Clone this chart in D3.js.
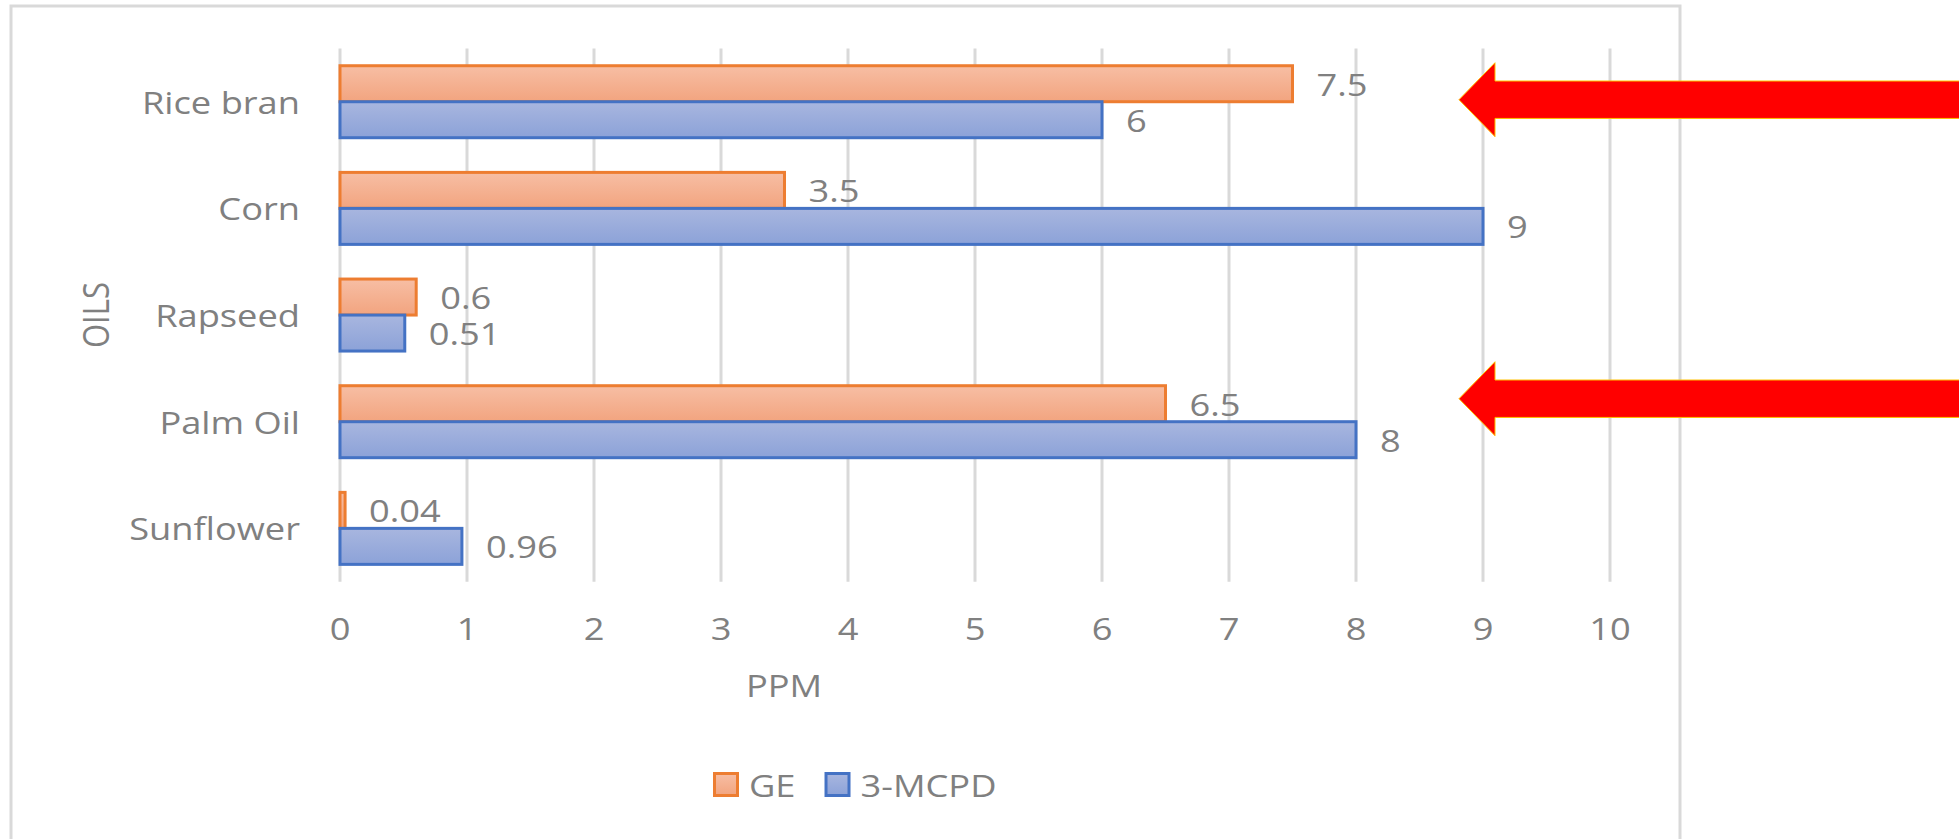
<!DOCTYPE html>
<html>
<head>
<meta charset="utf-8">
<script src="https://cdn.jsdelivr.net/npm/d3@7"></script>
<style>
  html, body { margin: 0; padding: 0; background: #fff; overflow: hidden; }
  svg { display: block; }
</style>
</head>
<body>
<svg id="chart" width="1959" height="839"></svg>
<script>
// ---- data ----
const categories = ["Rice bran", "Corn", "Rapseed", "Palm Oil", "Sunflower"];
const seriesNames = ["GE", "3-MCPD"];
const geValues = [7.5, 3.5, 0.6, 6.5, 0.04];
const mcpdValues = [6, 9, 0.51, 8, 0.96];
const xTicks = [0, 1, 2, 3, 4, 5, 6, 7, 8, 9, 10];
const highlighted = ["Rice bran", "Palm Oil"];

// ---- layout & style ----
const W = 1959, H = 839;
const plot = { left: 340, right: 1610, top: 48.4, bottom: 581.7 };
const SX = 1.17;            // horizontal stretch applied to all text
const FONT = "'Open Sans', 'Noto Sans', sans-serif";
const FS = 31;
const TEXT = "#808080";
const GRID = "#d9d9d9";
const seriesStyle = {
  "GE":     { stroke: "#ed7d31", top: "#f7bea4", bottom: "#f2a47f" },
  "3-MCPD": { stroke: "#4472c4", top: "#a8b6df", bottom: "#8ca2d8" }
};

const svg = d3.select("#chart");

// gradients for bar fills
const defs = svg.append("defs");
seriesNames.forEach((name, i) => {
  const g = defs.append("linearGradient")
    .attr("id", "grad" + i).attr("x1", 0).attr("y1", 0).attr("x2", 0).attr("y2", 1);
  g.append("stop").attr("offset", "0%").attr("stop-color", seriesStyle[name].top);
  g.append("stop").attr("offset", "100%").attr("stop-color", seriesStyle[name].bottom);
});

// chart frame
svg.append("rect")
  .attr("x", 11).attr("y", 6)
  .attr("width", 1669).attr("height", H + 20)
  .attr("fill", "#fff").attr("stroke", GRID).attr("stroke-width", 3);

// scales
const x = d3.scaleLinear().domain([0, 10]).range([plot.left, plot.right]);
const y = d3.scaleBand().domain(categories).range([plot.top, plot.bottom])
  .paddingInner(0.325).paddingOuter(0.1625);
const ySub = d3.scaleBand().domain(seriesNames).range([0, y.bandwidth()]);

function place(sel, px, py, extra) {
  return sel.attr("transform", `translate(${px},${py}) scale(${SX},1)` + (extra || ""));
}
function styleText(sel) {
  return sel.attr("font-family", FONT).attr("font-size", FS).attr("fill", TEXT);
}

// vertical gridlines
svg.append("g").selectAll("line").data(xTicks).join("line")
  .attr("x1", d => x(d)).attr("x2", d => x(d))
  .attr("y1", plot.top).attr("y2", plot.bottom)
  .attr("stroke", GRID).attr("stroke-width", 3);

// x tick labels
svg.append("g").selectAll("text").data(xTicks).join("text")
  .call(styleText)
  .attr("text-anchor", "middle").attr("dominant-baseline", "central")
  .each(function(d) { place(d3.select(this), x(d), 628); })
  .text(d => d);

// category labels
svg.append("g").selectAll("text").data(categories).join("text")
  .call(styleText)
  .attr("text-anchor", "end").attr("dominant-baseline", "central")
  .each(function(d) { place(d3.select(this), 300, y(d) + y.bandwidth() / 2); })
  .text(d => d);

// axis titles
svg.append("text").call(styleText)
  .attr("text-anchor", "middle").attr("dominant-baseline", "central")
  .call(s => place(s, 784, 685))
  .text("PPM");
svg.append("text").call(styleText)
  .attr("text-anchor", "middle").attr("dominant-baseline", "central")
  .call(s => place(s, 95, (plot.top + plot.bottom) / 2, " rotate(-90)"))
  .text("OILS");

// bars
const rows = categories.map((c, i) => ({
  category: c,
  values: [
    { series: "GE", value: geValues[i] },
    { series: "3-MCPD", value: mcpdValues[i] }
  ]
}));

const groups = svg.append("g").selectAll("g").data(rows).join("g")
  .attr("transform", d => `translate(0,${y(d.category)})`);

groups.selectAll("rect").data(d => d.values).join("rect")
  .attr("x", x(0))
  .attr("y", d => ySub(d.series))
  .attr("width", d => x(d.value) - x(0))
  .attr("height", ySub.bandwidth())
  .attr("fill", d => `url(#grad${seriesNames.indexOf(d.series)})`)
  .attr("stroke", d => seriesStyle[d.series].stroke)
  .attr("stroke-width", 3);

// value labels
groups.selectAll("text").data(d => d.values).join("text")
  .call(styleText)
  .attr("text-anchor", "start").attr("dominant-baseline", "central")
  .each(function(d) {
    place(d3.select(this), x(d.value) + 24, ySub(d.series) + ySub.bandwidth() / 2);
  })
  .text(d => String(d.value));

// legend
const legend = svg.append("g");
let lx = 713;
seriesNames.forEach((name, i) => {
  legend.append("rect")
    .attr("x", lx + 1.5).attr("y", 773.5)
    .attr("width", 23).attr("height", 22)
    .attr("fill", `url(#grad${i})`)
    .attr("stroke", seriesStyle[name].stroke).attr("stroke-width", 3);
  const t = legend.append("text").call(styleText)
    .attr("text-anchor", "start").attr("dominant-baseline", "central")
    .call(s => place(s, lx + 36, 785))
    .text(name);
  lx += 36 + t.node().getComputedTextLength() * SX + 29;
});

// highlight arrows pointing at selected oils
const arrowNudge = { "Rice bran": -2, "Palm Oil": -23 };
const tipX = 1459, neckX = 1495, tailX = W + 2, shaftHalf = 18.7, headHalf = 37;
svg.append("g").selectAll("path").data(highlighted).join("path")
  .attr("d", c => {
    const cy = y(c) + y.bandwidth() / 2 + arrowNudge[c];
    return `M${tipX},${cy} L${neckX},${cy - headHalf} L${neckX},${cy - shaftHalf} ` +
           `L${tailX},${cy - shaftHalf} L${tailX},${cy + shaftHalf} L${neckX},${cy + shaftHalf} ` +
           `L${neckX},${cy + headHalf} Z`;
  })
  .attr("fill", "#ff0000")
  .attr("stroke", "#ffc000").attr("stroke-width", 1);
</script>
</body>
</html>
